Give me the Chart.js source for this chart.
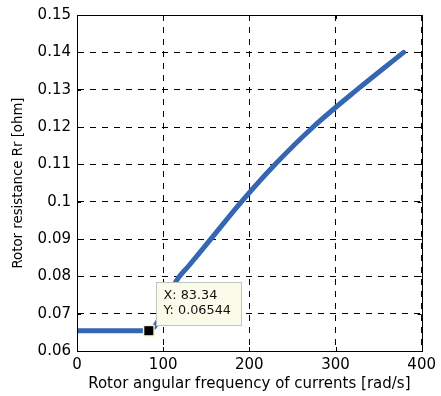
<!DOCTYPE html>
<html>
<head>
<meta charset="utf-8">
<script src="https://cdn.jsdelivr.net/npm/chart.js@4/dist/chart.umd.min.js"></script>
<style>
  html, body { margin: 0; padding: 0; background: #ffffff; }
  #wrap { width: 441px; height: 396px; }
</style>
</head>
<body>
<div id="wrap"><canvas id="c" width="441" height="396"></canvas></div>
<script>
// ---- data ----
const xValues = [0, 20, 40, 60, 83.34, 88, 92, 100, 108, 115, 130, 155, 191, 230, 274, 325, 379];
const yValues = [0.0654, 0.0654, 0.0654, 0.0654, 0.06544, 0.0660, 0.0672, 0.0712, 0.0752, 0.0787, 0.0829, 0.0899, 0.1000, 0.1100, 0.1200, 0.1300, 0.1400];
const xTicks = [0, 100, 200, 300, 400];
const yTicks = [0.06, 0.07, 0.08, 0.09, 0.10, 0.11, 0.12, 0.13, 0.14, 0.15];
const tipPoint = [83.34, 0.06544];
const tipLabels = ['X: 83.34', 'Y: 0.06544'];
const xTitle = 'Rotor angular frequency of currents [rad/s]';
const yTitle = 'Rotor resistance Rr [ohm]';

const FONT = 'DejaVu Sans';

const points = xValues.map((x, i) => ({ x: x, y: yValues[i] }));

const frameAndTicks = {
  id: 'frameAndTicks',
  afterDraw(chart) {
    const { ctx, chartArea: a, scales } = chart;
    ctx.save();
    ctx.strokeStyle = '#000';
    ctx.lineWidth = 1;
    ctx.setLineDash([]);
    ctx.beginPath();
    const tl = 4;
    xTicks.forEach(v => {
      const px = Math.round(scales.x.getPixelForValue(v)) + 0.5;
      ctx.moveTo(px, a.bottom); ctx.lineTo(px, a.bottom - tl);
      ctx.moveTo(px, a.top); ctx.lineTo(px, a.top + tl);
    });
    yTicks.forEach(v => {
      const py = Math.round(scales.y.getPixelForValue(v)) + 0.5;
      ctx.moveTo(a.left, py); ctx.lineTo(a.left + tl, py);
      ctx.moveTo(a.right, py); ctx.lineTo(a.right - tl, py);
    });
    ctx.stroke();
    ctx.strokeRect(Math.round(a.left) + 0.5, Math.round(a.top) + 0.5,
                   Math.round(a.right - a.left), Math.round(a.bottom - a.top));
    ctx.restore();
  }
};

const dataTip = {
  id: 'dataTip',
  afterDatasetsDraw(chart) {
    const { ctx, scales } = chart;
    const px = scales.x.getPixelForValue(tipPoint[0]);
    const py = scales.y.getPixelForValue(tipPoint[1]);
    ctx.save();
    const bx = Math.round(px + 7) + 0.5, by = Math.round(py - 49) + 0.5;
    const bw = 85, bh = 43;
    ctx.fillStyle = '#fbfbea';
    ctx.fillRect(bx, by, bw, bh);
    ctx.strokeStyle = '#c4c4c4';
    ctx.lineWidth = 1;
    ctx.strokeRect(bx, by, bw, bh);
    ctx.fillStyle = '#f6f4d8';
    ctx.fillRect(px - 6, py - 6, 12, 12);
    ctx.fillStyle = '#000';
    ctx.fillRect(px - 4.5, py - 4.5, 9, 9);
    ctx.fillStyle = '#111';
    ctx.font = '12.8px "' + FONT + '"';
    ctx.textBaseline = 'middle';
    ctx.textAlign = 'left';
    ctx.fillText(tipLabels[0], bx + 7, by + 13.5);
    ctx.fillText(tipLabels[1], bx + 7, by + 28);
    ctx.restore();
  }
};

new Chart(document.getElementById('c'), {
  type: 'line',
  data: {
    datasets: [{
      data: points,
      borderColor: '#3466b2',
      borderWidth: 5,
      pointRadius: 0,
      cubicInterpolationMode: 'monotone',
      borderCapStyle: 'round',
      borderJoinStyle: 'round',
      fill: false
    }]
  },
  options: {
    responsive: false,
    animation: false,
    events: [],
    layout: { padding: { left: 0, right: 14, top: 13, bottom: 0 } },
    plugins: { legend: { display: false }, tooltip: { enabled: false } },
    scales: {
      x: {
        type: 'linear',
        min: 0, max: 400,
        afterBuildTicks: s => { s.ticks = xTicks.map(v => ({ value: v })); },
        afterFit: s => { s.height = 45; },
        grid: { color: '#000', lineWidth: 1, drawTicks: false },
        border: { display: true, color: '#000', width: 1, dash: [6, 6] },
        ticks: {
          padding: 5,
          color: '#000',
          font: { family: FONT, size: 15 },
          maxRotation: 0,
          callback: v => String(v)
        },
        title: {
          display: true,
          text: xTitle,
          color: '#000',
          font: { family: FONT, size: 15 },
          padding: { top: 0, bottom: 3 }
        }
      },
      y: {
        type: 'linear',
        min: 0.06, max: 0.15,
        afterBuildTicks: s => { s.ticks = yTicks.map(v => ({ value: v })); },
        afterFit: s => { s.width = 77; },
        grid: { color: '#000', lineWidth: 1, drawTicks: false },
        border: { display: true, color: '#000', width: 1, dash: [6, 6] },
        ticks: {
          padding: 6,
          color: '#000',
          font: { family: FONT, size: 15 },
          callback: v => String(+Number(v).toFixed(2))
        },
        title: {
          display: true,
          text: yTitle,
          color: '#000',
          font: { family: FONT, size: 13.3 },
          padding: { top: 11, bottom: 0 }
        }
      }
    }
  },
  plugins: [frameAndTicks, dataTip]
});
</script>
</body>
</html>
